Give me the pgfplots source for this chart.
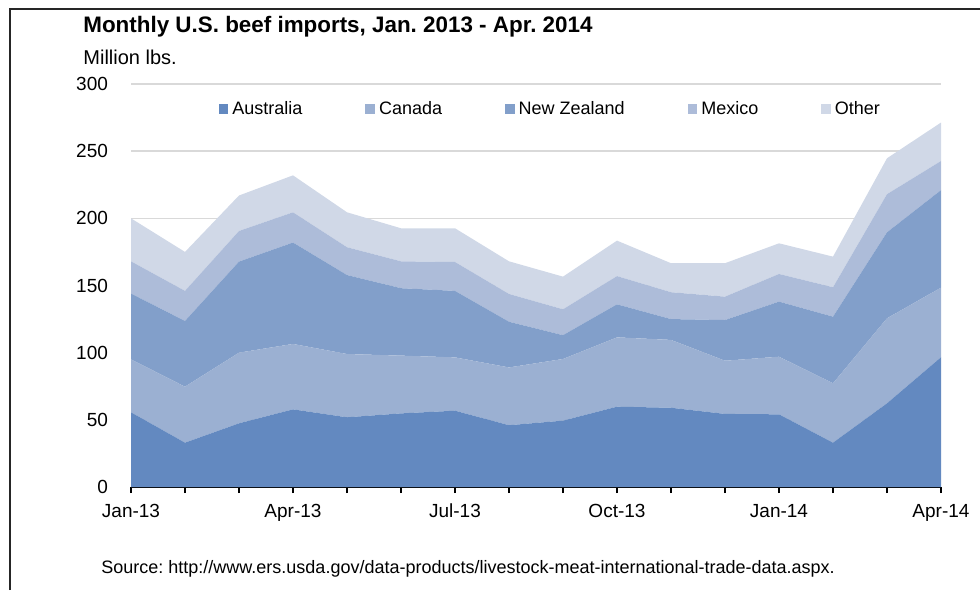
\documentclass[border=0pt]{standalone}
\usepackage{fontspec}
\setmainfont{Liberation Sans}
\usepackage{pgfplots}
\usepackage{pgfplotstable}
\pgfplotsset{compat=1.18}
\frenchspacing

\definecolor{aus}{RGB}{99,137,192}
\definecolor{can}{RGB}{155,176,210}
\definecolor{nzl}{RGB}{130,159,202}
\definecolor{mex}{RGB}{173,188,217}
\definecolor{oth}{RGB}{208,216,231}
\definecolor{gridc}{RGB}{217,217,217}

\pgfplotsset{sqlegend/.style={legend image code/.code={\fill[##1] (0pt,-2.4pt) rectangle (4.8pt,2.4pt);}}}

% million lbs, Jan-13 .. Apr-14
\pgfplotstableread{
idx aus  can  nz   mex  oth
0   55.6 39.4 49.0 24.0 32.0
1   33.0 41.7 48.9 22.4 29.0
2   47.4 52.6 67.8 22.8 26.4
3   57.8 48.7 75.5 22.5 27.5
4   51.9 47.1 58.8 20.7 26.0
5   54.8 43.0 50.2 20.0 24.6
6   56.8 39.7 49.5 21.5 25.1
7   46.0 43.0 34.0 20.7 24.3
8   49.4 45.9 17.7 19.3 24.3
9   59.8 51.6 24.6 21.0 26.4
10  59.0 50.5 15.5 20.0 21.6
11  54.4 39.6 30.3 17.4 24.9
12  54.1 42.9 41.0 20.6 22.8
13  33.0 44.2 49.6 21.9 22.8
14  62.3 63.3 64.0 28.4 26.7
15  96.6 51.8 72.6 21.7 28.6
}\imports

\begin{document}
\begin{tikzpicture}
% 1 px of the reference = 0.5pt
\useasboundingbox (0pt,0pt) rectangle (490pt,295pt);
\draw[line width=1pt,black!85] (4.75pt,0pt) -- (4.75pt,290.5pt) -- (490pt,290.5pt);

\node[anchor=base west,inner sep=0pt,font=\bfseries\fontsize{11.2}{13}\selectfont] at (41.5pt,278.5pt) {Monthly U.S. beef imports, Jan. 2013 - Apr. 2014};
\node[anchor=base west,inner sep=0pt,font=\fontsize{10}{12}\selectfont] at (41.5pt,262.5pt) {Million lbs.};
\node[anchor=base west,inner sep=0pt,font=\fontsize{9}{11}\selectfont] at (50.5pt,8.5pt) {Source: http://www.ers.usda.gov/data-products/livestock-meat-international-trade-data.aspx.};

\begin{axis}[
  at={(65.5pt,51.5pt)}, anchor=south west,
  scale only axis, width=405pt, height=201.5pt,
  xmin=0, xmax=15, ymin=0, ymax=300,
  stack plots=y,
  axis x line*=bottom, axis y line*=left,
  x axis line style={draw=none}, y axis line style={draw=none},
  xtick={0,...,15},
  xticklabels={Jan-13,,,Apr-13,,,Jul-13,,,Oct-13,,,Jan-14,,,Apr-14},
  ytick={0,50,...,300},
  ymajorgrids, grid style={gridc,line width=0.75pt},
  tick align=outside, major tick length=3pt,
  xtick style={black,line width=0.6pt},
  ytick style={draw=none},
  tick label style={font=\fontsize{9.5}{11}\selectfont},
  /pgf/number format/assume math mode=true,
  yticklabel style={xshift=-5pt},
  xticklabel style={yshift=-2pt},
  legend columns=5,
  sqlegend,
  legend style={at={(0.519,0.938)}, anchor=center, draw=none, fill=none,
    font=\fontsize{9}{11}\selectfont,
    /tikz/every even column/.append style={column sep=29.5pt},
    inner sep=0pt},
]
\addplot[fill=aus,draw=none] table[x=idx,y=aus]{\imports} \closedcycle;
\addplot[fill=can,draw=none] table[x=idx,y=can]{\imports} \closedcycle;
\addplot[fill=nzl,draw=none] table[x=idx,y=nz]{\imports} \closedcycle;
\addplot[fill=mex,draw=none] table[x=idx,y=mex]{\imports} \closedcycle;
\addplot[fill=oth,draw=none] table[x=idx,y=oth]{\imports} \closedcycle;
\legend{Australia,Canada,New Zealand,Mexico,Other}
\draw[black,line width=1.2pt] (rel axis cs:0,0) -- (rel axis cs:1,0);
\end{axis}
\end{tikzpicture}
\end{document}
